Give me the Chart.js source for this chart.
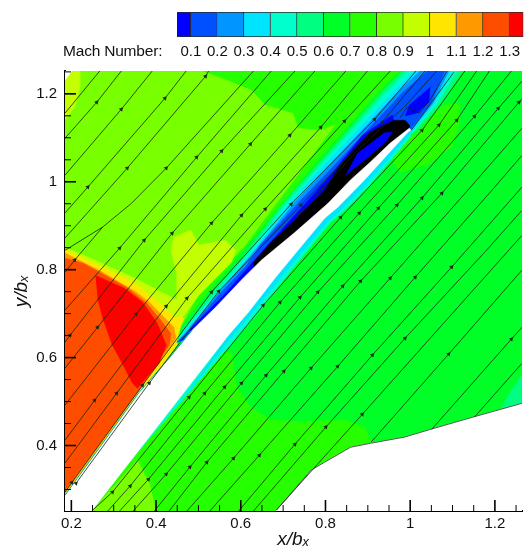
<!DOCTYPE html>
<html>
<head>
<meta charset="utf-8">
<style>
  html, body { margin: 0; padding: 0; background: #fff; }
  #wrap { position: relative; width: 526px; height: 551px; overflow: hidden; }
  canvas { position: absolute; left: 0; top: 0; }
  #barName { position: absolute; left: 63px; top: 42px; font: 15.5px "Liberation Sans", sans-serif; color: #111; letter-spacing: -0.2px; white-space: nowrap; }
</style>
<script src="https://cdn.jsdelivr.net/npm/chart.js@4"></script>
</head>
<body>
<div id="wrap">
  <canvas id="field" width="526" height="551"></canvas>
  <canvas id="colorbar" width="526" height="70"></canvas>
  <div id="barName">Mach Number:</div>
</div>
<script>
// colour bar
const machTicks = [0.1, 0.2, 0.3, 0.4, 0.5, 0.6, 0.7, 0.8, 0.9, 1, 1.1, 1.2, 1.3];
const machLow = [0.048, 0.1, 0.2, 0.3, 0.4, 0.5, 0.6, 0.7, 0.8, 0.9, 1, 1.1, 1.2, 1.3];
const machHigh = [0.1, 0.2, 0.3, 0.4, 0.5, 0.6, 0.7, 0.8, 0.9, 1, 1.1, 1.2, 1.3, 1.352];
const machColors = ["#0000ff", "#0050ff", "#0095ff", "#00e5ff", "#00ffcc", "#00ff80", "#00ff26", "#26ff00", "#78ff00", "#c3ff00", "#ffe600", "#ff9900", "#ff4d00", "#ff0000"];

// axes
const xMajor = [0.2, 0.4, 0.6, 0.8, 1, 1.2];
const yMajor = [0.4, 0.6, 0.8, 1, 1.2];
const xMinor = [0.25, 0.3, 0.35, 0.45, 0.5, 0.55, 0.65, 0.7, 0.75, 0.85, 0.9, 0.95, 1.05, 1.1, 1.15, 1.25];
const yMinor = [0.3, 0.35, 0.45, 0.5, 0.55, 0.65, 0.7, 0.75, 0.85, 0.9, 0.95, 1.05, 1.1, 1.15, 1.25];

// contour regions, x/bx and y/bx pairs
const wholeField = [[0.185, 1.252], [1.264, 1.252], [1.264, 0.251], [0.185, 0.251]];
const upperGreen = [[0.185, 1.252], [1.03, 1.252], [0.459, 0.655], [0.185, 0.282]];
const upperLime = [[0.185, 1.252], [0.508, 1.252], [0.578, 1.227], [0.625, 1.208], [0.658, 1.174], [0.723, 1.156], [0.735, 1.122], [0.789, 1.117], [0.822, 1.129], [0.74, 1.022], [0.684, 0.951], [0.611, 0.856], [0.571, 0.815], [0.501, 0.746], [0.454, 0.662], [0.185, 0.287]];
const cornerYellowGreen = [[0.185, 1.252], [0.22, 1.252], [0.22, 1.215], [0.208, 1.17], [0.185, 1.14]];
const cornerWhite = [[0.185, 1.252], [0.201, 1.252], [0.185, 1.231]];
const arcYellowGreen = [[0.185, 0.851], [0.267, 0.817], [0.349, 0.781], [0.449, 0.731], [0.449, 0.792], [0.435, 0.844], [0.442, 0.874], [0.482, 0.89], [0.501, 0.856], [0.564, 0.867], [0.588, 0.844], [0.578, 0.817], [0.501, 0.742], [0.461, 0.69], [0.449, 0.628], [0.185, 0.287]];
const arcYellow = [[0.185, 0.844], [0.267, 0.808], [0.349, 0.769], [0.414, 0.719], [0.442, 0.692], [0.466, 0.69], [0.449, 0.651], [0.449, 0.628], [0.185, 0.287]];
const arcOrange = [[0.185, 0.838], [0.274, 0.794], [0.353, 0.749], [0.384, 0.726], [0.442, 0.669], [0.447, 0.644], [0.424, 0.612], [0.185, 0.29]];
const arcRedOrange = [[0.185, 0.826], [0.227, 0.815], [0.267, 0.794], [0.33, 0.76], [0.377, 0.724], [0.407, 0.69], [0.435, 0.655], [0.431, 0.628], [0.4, 0.587], [0.368, 0.537], [0.185, 0.298]];
const arcRed = [[0.257, 0.787], [0.325, 0.758], [0.368, 0.726], [0.403, 0.678], [0.424, 0.628], [0.407, 0.587], [0.356, 0.53], [0.344, 0.542], [0.325, 0.578], [0.297, 0.628], [0.274, 0.69], [0.262, 0.735]];
const tipGreen = [[1.04, 1.167], [1.115, 1.179], [1.115, 1.124], [1.098, 1.079], [1.04, 1.038], [0.976, 1.022], [0.958, 1.049], [1, 1.117]];
const lowerGreen = [[0.248, 0.251], [0.541, 0.612], [0.578, 0.612], [0.59, 0.533], [0.625, 0.485], [0.672, 0.458], [0.742, 0.455], [0.845, 0.458], [0.892, 0.442], [0.908, 0.408], [0.859, 0.396], [0.798, 0.362], [0.766, 0.344], [0.684, 0.251]];
const lowerLime = [[0.248, 0.251], [0.356, 0.367], [0.384, 0.314], [0.4, 0.251]];
const cornerTeal = [[1.264, 0.56], [1.239, 0.526], [1.215, 0.485], [1.264, 0.496]];
const band1 = [[0.461, 0.672], [0.513, 0.737], [0.588, 0.822], [0.695, 0.947], [0.759, 1.022], [0.923, 1.202], [0.974, 1.252], [1.133, 1.252], [1.082, 1.179], [1.014, 1.111], [0.981, 1.097], [0.735, 0.867], [0.501, 0.651], [0.449, 0.635]];
const band2 = [[0.464, 0.667], [0.52, 0.735], [0.602, 0.826], [0.7, 0.951], [0.766, 1.022], [0.932, 1.202], [0.983, 1.252], [1.122, 1.252], [1.075, 1.179], [1.012, 1.113], [0.981, 1.097], [0.735, 0.867], [0.501, 0.651], [0.449, 0.635]];
const band3 = [[0.466, 0.662], [0.529, 0.735], [0.613, 0.833], [0.707, 0.951], [0.773, 1.022], [0.941, 1.202], [0.993, 1.252], [1.11, 1.252], [1.065, 1.179], [1.009, 1.115], [0.981, 1.097], [0.735, 0.867], [0.501, 0.651], [0.449, 0.635]];
const band4 = [[0.468, 0.66], [0.536, 0.735], [0.623, 0.833], [0.716, 0.951], [0.782, 1.022], [0.958, 1.202], [1.009, 1.252], [1.098, 1.252], [1.058, 1.179], [1.007, 1.117], [0.981, 1.097], [0.735, 0.867], [0.501, 0.651], [0.449, 0.635]];
const band5 = [[0.471, 0.658], [0.548, 0.747], [0.634, 0.844], [0.726, 0.951], [0.794, 1.022], [0.969, 1.202], [1.023, 1.252], [1.091, 1.252], [1.054, 1.179], [1.005, 1.12], [0.981, 1.097], [0.735, 0.867], [0.501, 0.651], [0.449, 0.635]];
const band6 = [[0.449, 0.635], [0.478, 0.662], [0.553, 0.747], [0.611, 0.806], [0.646, 0.856], [0.735, 0.951], [0.806, 1.022], [0.981, 1.202], [1.04, 1.252], [1.082, 1.252], [1.049, 1.179], [1.002, 1.122], [0.981, 1.097], [0.735, 0.867], [0.501, 0.651]];
const band7 = [[0.478, 0.662], [0.56, 0.742], [0.653, 0.844], [0.742, 0.94], [0.814, 1.017], [0.887, 1.106], [0.958, 1.152], [0.969, 1.106], [0.735, 0.867], [0.501, 0.651]];
const wakeBlue = [[0.988, 1.149], [0.998, 1.174], [1.047, 1.215], [1.044, 1.181], [1.016, 1.156]];
const blackCore = [[0.63, 0.817], [0.672, 0.863], [0.728, 0.913], [0.798, 0.981], [0.824, 1.022], [0.859, 1.065], [0.906, 1.113], [0.962, 1.14], [0.988, 1.14], [0.998, 1.129], [0.998, 1.122], [0.969, 1.099], [0.735, 0.867], [0.63, 0.776]];
const corePatch = [[0.848, 1.015], [0.876, 1.065], [0.939, 1.111], [0.958, 1.113], [0.939, 1.088], [0.892, 1.049]];
const lowerTeal = [[0.337, 0.362], [0.571, 0.651], [0.618, 0.703], [0.681, 0.781], [0.735, 0.844], [0.798, 0.917], [0.829, 0.942], [0.892, 1.004], [0.939, 1.054], [0.993, 1.111], [1.002, 1.104], [0.951, 1.045], [0.904, 0.992], [0.841, 0.931], [0.81, 0.906], [0.747, 0.831], [0.693, 0.767], [0.63, 0.69], [0.583, 0.637]];
const lowerCyan = [[0.454, 0.492], [0.571, 0.651], [0.618, 0.703], [0.681, 0.781], [0.735, 0.844], [0.798, 0.917], [0.829, 0.942], [0.892, 1.004], [0.939, 1.054], [0.993, 1.111], [0.998, 1.107], [0.946, 1.049], [0.899, 0.997], [0.836, 0.935], [0.806, 0.91], [0.742, 0.837], [0.688, 0.774], [0.623, 0.697], [0.576, 0.644]];
const bladeWhite = [[0.185, 0.287], [0.267, 0.396], [0.36, 0.521], [0.431, 0.599], [0.485, 0.662], [0.541, 0.715], [0.606, 0.781], [0.649, 0.822], [0.728, 0.885], [0.806, 0.951], [0.859, 1.004], [0.906, 1.045], [0.953, 1.088], [0.998, 1.122], [1.002, 1.117], [0.993, 1.111], [0.939, 1.054], [0.892, 1.004], [0.829, 0.942], [0.798, 0.917], [0.735, 0.844], [0.681, 0.781], [0.618, 0.703], [0.571, 0.651], [0.248, 0.251], [0.185, 0.251]];
const bladeWallLayer = [[0.185, 0.287], [0.267, 0.396], [0.36, 0.521], [0.431, 0.599], [0.485, 0.662]];
const hubWhite = [[0.684, 0.253], [0.766, 0.344], [0.798, 0.362], [0.859, 0.396], [0.906, 0.405], [0.986, 0.419], [1.056, 0.439], [1.157, 0.467], [1.264, 0.496], [1.264, 0.251], [0.684, 0.251]];

// streamlines above the blade
const streamUpper = [
  [[0.267, 1.252], [0.185, 1.156]],
  [[0.318, 1.252], [0.26, 1.181], [0.185, 1.099]],
  [[0.391, 1.252], [0.318, 1.165], [0.185, 1.015]],
  [[0.471, 1.252], [0.421, 1.19], [0.239, 0.988], [0.185, 0.929]],
  [[0.524, 1.252], [0.517, 1.24], [0.332, 1.031], [0.185, 0.872]],
  [[0.63, 1.252], [0.424, 1.031], [0.342, 0.951], [0.274, 0.897], [0.185, 0.844]],
  [[0.274, 0.897], [0.208, 0.822], [0.185, 0.794]],
  [[0.672, 1.252], [0.496, 1.056], [0.314, 0.849], [0.185, 0.708]],
  [[0.728, 1.252], [0.555, 1.07], [0.372, 0.867], [0.197, 0.651], [0.185, 0.635]],
  [[0.775, 1.252], [0.623, 1.086], [0.438, 0.883], [0.262, 0.669], [0.185, 0.576]],
  [[0.848, 1.252], [0.716, 1.106], [0.531, 0.906], [0.353, 0.699], [0.185, 0.492]],
  [[0.899, 1.252], [0.789, 1.124], [0.602, 0.924], [0.424, 0.717], [0.255, 0.503], [0.185, 0.412]],
  [[0.953, 1.252], [0.845, 1.138], [0.658, 0.938], [0.473, 0.735], [0.307, 0.519], [0.185, 0.36]],
  [[1.014, 1.252], [0.916, 1.142], [0.719, 0.949], [0.531, 0.749], [0.368, 0.537], [0.201, 0.316], [0.185, 0.294]],
  [[1.035, 1.252], [0.934, 1.136], [0.742, 0.947], [0.548, 0.751], [0.384, 0.542], [0.211, 0.314]],
  [[1.063, 1.252], [0.986, 1.17], [0.965, 1.152], [0.876, 1.072], [0.735, 0.924]],
  [[0.976, 1.145], [0.993, 1.17], [1.021, 1.156], [1.047, 1.186], [1.087, 1.252]],
  [[1.002, 1.117], [1.103, 1.249]]
];

// streamlines below the blade
const streamLower = [
  [[0.248, 0.251], [0.297, 0.294], [0.478, 0.51], [0.653, 0.719], [0.836, 0.919], [1.028, 1.117], [1.129, 1.252]],
  [[0.286, 0.251], [0.339, 0.308], [0.515, 0.519], [0.693, 0.726], [0.88, 0.929], [1.068, 1.129], [1.157, 1.252]],
  [[0.314, 0.251], [0.382, 0.323], [0.562, 0.533], [0.74, 0.737], [0.925, 0.94], [1.11, 1.14], [1.187, 1.252]],
  [[0.346, 0.251], [0.424, 0.335], [0.602, 0.542], [0.782, 0.749], [0.969, 0.947], [1.152, 1.149], [1.239, 1.252]],
  [[0.396, 0.251], [0.48, 0.351], [0.66, 0.56], [0.841, 0.763], [1.028, 0.963], [1.208, 1.167], [1.264, 1.229]],
  [[0.431, 0.251], [0.52, 0.362], [0.702, 0.569], [0.883, 0.774], [1.075, 0.974], [1.257, 1.181], [1.264, 1.188]],
  [[0.473, 0.251], [0.583, 0.371], [0.766, 0.576], [0.953, 0.781], [1.138, 0.983], [1.264, 1.122]],
  [[0.527, 0.251], [0.644, 0.378], [0.829, 0.58], [1.012, 0.783], [1.197, 0.985], [1.264, 1.06]],
  [[0.595, 0.251], [0.728, 0.403], [0.911, 0.606], [1.098, 0.806], [1.264, 0.988]],
  [[0.63, 0.251], [0.801, 0.442], [0.988, 0.644], [1.18, 0.844], [1.264, 0.935]],
  [[0.684, 0.253], [0.887, 0.471], [1.075, 0.674], [1.264, 0.878]],
  [[0.908, 0.408], [1.091, 0.608], [1.264, 0.799]],
  [[1.051, 0.437], [1.239, 0.642], [1.264, 0.669]],
  [[1.152, 0.465], [1.264, 0.587]]
];

// arrow heads on the streamlines
const arrowsLower = [[0.297, 0.294], [0.339, 0.308], [0.382, 0.323], [0.424, 0.335], [0.48, 0.351], [0.52, 0.362], [0.583, 0.371], [0.644, 0.378], [0.728, 0.403], [0.801, 0.442], [0.887, 0.471], [1.091, 0.608], [1.239, 0.642], [0.478, 0.51], [0.515, 0.519], [0.562, 0.533], [0.602, 0.542], [0.66, 0.56], [0.702, 0.569], [0.766, 0.576], [0.829, 0.58], [0.911, 0.606], [0.988, 0.644], [0.653, 0.719], [0.693, 0.726], [0.74, 0.737], [0.782, 0.749], [0.841, 0.763], [0.883, 0.774], [0.953, 0.781], [1.012, 0.783], [1.098, 0.806], [0.836, 0.919], [0.88, 0.929], [0.925, 0.94], [0.969, 0.947], [1.028, 0.963], [1.075, 0.974], [1.028, 1.117], [1.068, 1.129], [1.11, 1.14], [1.152, 1.149], [1.208, 1.167], [1.257, 1.181]];
const arrowsUpper = [[0.26, 1.181], [0.318, 1.165], [0.421, 1.19], [0.517, 1.24], [0.239, 0.988], [0.332, 1.031], [0.424, 1.031], [0.496, 1.056], [0.555, 1.07], [0.623, 1.086], [0.716, 1.106], [0.789, 1.124], [0.845, 1.138], [0.314, 0.849], [0.372, 0.867], [0.438, 0.883], [0.531, 0.906], [0.602, 0.924], [0.658, 0.938], [0.208, 0.822], [0.197, 0.651], [0.262, 0.669], [0.353, 0.699], [0.424, 0.717], [0.473, 0.735], [0.255, 0.503], [0.307, 0.519], [0.368, 0.537], [0.384, 0.542], [0.531, 0.749], [0.548, 0.751], [0.719, 0.949], [0.742, 0.947], [0.916, 1.142], [0.934, 1.136], [0.201, 0.316], [0.211, 0.314]];

const toPoints = (pairs) => pairs.map(([x, y]) => ({ x, y }));

const region = (pairs, color) => ({
  data: toPoints(pairs),
  showLine: true,
  fill: "shape",
  backgroundColor: color,
  borderColor: color,
  borderWidth: 0.5,
  pointRadius: 0,
});

const stroke = (pairs, color, width) => ({
  data: toPoints(pairs),
  showLine: true,
  fill: false,
  borderColor: color,
  borderWidth: width,
  pointRadius: 0,
});

const arrows = (pairs) => ({
  data: toPoints(pairs),
  showLine: false,
  pointStyle: "triangle",
  pointRotation: 42,
  pointRadius: 2.6,
  backgroundColor: "#1c2a14",
  borderColor: "#1c2a14",
  borderWidth: 0,
});

// painter's order, first one is at the back
const layers = [
  region(wholeField, machColors[6]),
  region(upperGreen, machColors[7]),
  region(upperLime, machColors[8]),
  region(cornerYellowGreen, machColors[9]),
  region(cornerWhite, "#ffffff"),
  region(arcYellowGreen, machColors[9]),
  region(arcYellow, machColors[10]),
  region(arcOrange, machColors[11]),
  region(arcRedOrange, machColors[12]),
  region(arcRed, machColors[13]),
  region(tipGreen, machColors[7]),
  region(lowerGreen, machColors[7]),
  region(lowerLime, machColors[8]),
  region(cornerTeal, machColors[5]),
  region(band1, machColors[6]),
  region(band2, machColors[5]),
  region(band3, machColors[4]),
  region(band4, machColors[3]),
  region(band5, machColors[2]),
  region(band6, machColors[1]),
  region(band7, machColors[0]),
  region(wakeBlue, machColors[0]),
  region(blackCore, "#000000"),
  region(corePatch, machColors[0]),
  region(lowerTeal, machColors[4]),
  region(lowerCyan, machColors[3]),
  region(bladeWhite, "#ffffff"),
  stroke(bladeWallLayer, "#00b080", 1),
  region(hubWhite, "#ffffff"),
  stroke(hubWhite.slice(0, 9), "#303030", 0.8),
  ...streamUpper.map((line) => stroke(line, "#14240c", 0.8)),
  ...streamLower.map((line) => stroke(line, "#14240c", 0.8)),
  arrows(arrowsLower),
  arrows(arrowsUpper),
];

// ticks point inwards in the reference, chart.js only draws them outwards
const insideTicks = {
  id: "insideTicks",
  afterDatasetsDraw(chart) {
    const { ctx, chartArea, scales } = chart;
    const mark = (values, scale, length, width) => {
      ctx.lineWidth = width;
      values.forEach((value) => {
        const pos = scale.getPixelForValue(value);
        ctx.beginPath();
        if (scale.isHorizontal()) {
          ctx.moveTo(pos, chartArea.bottom);
          ctx.lineTo(pos, chartArea.bottom - length);
        } else {
          ctx.moveTo(chartArea.left, pos);
          ctx.lineTo(chartArea.left + length, pos);
        }
        ctx.stroke();
      });
    };
    ctx.save();
    ctx.strokeStyle = "#000";
    mark(xMajor, scales.x, 11, 1.6);
    mark(yMajor, scales.y, 11, 1.6);
    mark(xMinor, scales.x, 6, 1);
    mark(yMinor, scales.y, 6, 1);
    ctx.restore();
  },
};

const tickText = (value) => String(+value.toFixed(1));

new Chart(document.getElementById("field"), {
  type: "scatter",
  data: { datasets: layers.reverse() },
  plugins: [insideTicks],
  options: {
    responsive: false,
    animation: false,
    layout: { padding: { top: 71, right: 0, left: 0, bottom: 0 } },
    plugins: { legend: { display: false }, tooltip: { enabled: false } },
    scales: {
      x: {
        type: "linear",
        min: 0.185,
        max: 1.264,
        afterFit: (scale) => { scale.height = 40; },
        afterBuildTicks: (scale) => { scale.ticks = xMajor.map((value) => ({ value })); },
        grid: { display: false, drawTicks: false },
        border: { display: true, color: "#000", width: 2 },
        ticks: { callback: tickText, color: "#111", padding: 4, maxRotation: 0, autoSkip: false, font: { family: "Liberation Sans", size: 15 } },
        title: { display: true, text: "x/bₓ", color: "#111", padding: 0, font: { family: "Liberation Sans", size: 19, style: "italic" } },
      },
      y: {
        type: "linear",
        min: 0.251,
        max: 1.252,
        afterFit: (scale) => { scale.width = 65; },
        afterBuildTicks: (scale) => { scale.ticks = yMajor.map((value) => ({ value })); },
        grid: { display: false, drawTicks: false },
        border: { display: true, color: "#000", width: 2 },
        ticks: { callback: tickText, color: "#111", padding: 8, autoSkip: false, font: { family: "Liberation Sans", size: 15 } },
        title: { display: true, text: "y/bₓ", color: "#111", padding: { top: 10, bottom: 0 }, font: { family: "Liberation Sans", size: 19, style: "italic" } },
      },
    },
  },
});

new Chart(document.getElementById("colorbar"), {
  type: "bar",
  data: {
    labels: ["Mach Number"],
    datasets: machColors.map((color, i) => ({
      data: [[machLow[i], machHigh[i]]],
      backgroundColor: color,
      borderColor: "#2a2a2a",
      borderWidth: 1,
      barPercentage: 1,
      categoryPercentage: 1,
    })),
  },
  options: {
    indexAxis: "y",
    responsive: false,
    animation: false,
    layout: { padding: { top: 12, left: 177, right: 0, bottom: 0 } },
    plugins: { legend: { display: false }, tooltip: { enabled: false } },
    scales: {
      x: {
        type: "linear",
        min: 0.048,
        max: 1.352,
        afterFit: (scale) => { scale.height = 33; },
        afterBuildTicks: (scale) => { scale.ticks = machTicks.map((value) => ({ value })); },
        grid: { display: false, drawTicks: false },
        border: { display: false },
        ticks: { callback: tickText, color: "#111", padding: 6, maxRotation: 0, autoSkip: false, font: { family: "Liberation Sans", size: 15 } },
      },
      y: { display: false, stacked: true },
    },
  },
});
</script>
</body>
</html>
